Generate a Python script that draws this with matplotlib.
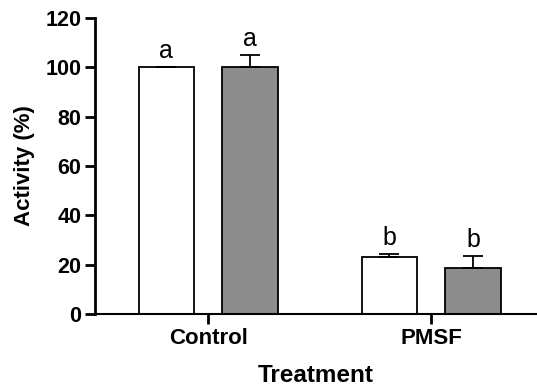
import matplotlib
matplotlib.use("Agg")
import matplotlib.pyplot as plt
import numpy as np

plt.rcParams['font.family'] = ['Liberation Sans', 'DejaVu Sans']

treatments = ['Control', 'PMSF']
white_vals = [100.0, 23.1]
white_err = [0.0, 1.2]
gray_vals = [100.0, 18.6]
gray_err = [4.9, 4.9]
white_letters = ['a', 'b']
gray_letters = ['a', 'b']

x = np.arange(len(treatments))
offset = 0.188
width = 0.247

fig = plt.figure(figsize=(5.37, 3.86), dpi=100)
ax = fig.add_axes([0.177, 0.187, 0.823, 0.766])

ax.bar(x - offset, white_vals, width, color='white', edgecolor='black', linewidth=1.3,
       yerr=[np.zeros(2), white_err], capsize=7, error_kw=dict(elinewidth=1.3, capthick=1.3))
ax.bar(x + offset, gray_vals, width, color='#8c8c8c', edgecolor='black', linewidth=1.3,
       yerr=[np.zeros(2), gray_err], capsize=7, error_kw=dict(elinewidth=1.3, capthick=1.3))

# significance letters
for i in range(len(x)):
    ax.text(x[i] - offset, white_vals[i] + white_err[i] + 3.8, white_letters[i],
            ha='center', va='baseline', fontsize=18)
    ax.text(x[i] + offset, gray_vals[i] + gray_err[i] + 3.8, gray_letters[i],
            ha='center', va='baseline', fontsize=18)

ax.set_xlim(-0.507, 1.475)
ax.set_ylim(0, 120)
ax.set_yticks(range(0, 121, 20))
ax.set_xticks(x)
ax.set_xticklabels(treatments, fontsize=16, fontweight='bold')
for lab in ax.get_yticklabels():
    lab.set_fontsize(15.5)
    lab.set_fontweight('bold')
ax.tick_params(axis='both', direction='out', length=7, width=2, pad=3)

ax.spines['top'].set_visible(False)
ax.spines['right'].set_visible(False)
ax.spines['left'].set_linewidth(2)
ax.spines['bottom'].set_linewidth(1.5)

ax.set_ylabel('Activity (%)', fontsize=16, fontweight='bold', labelpad=7)
ax.set_xlabel('Treatment', fontsize=17.5, fontweight='bold', labelpad=11)

fig.savefig('out.png', dpi=100)
